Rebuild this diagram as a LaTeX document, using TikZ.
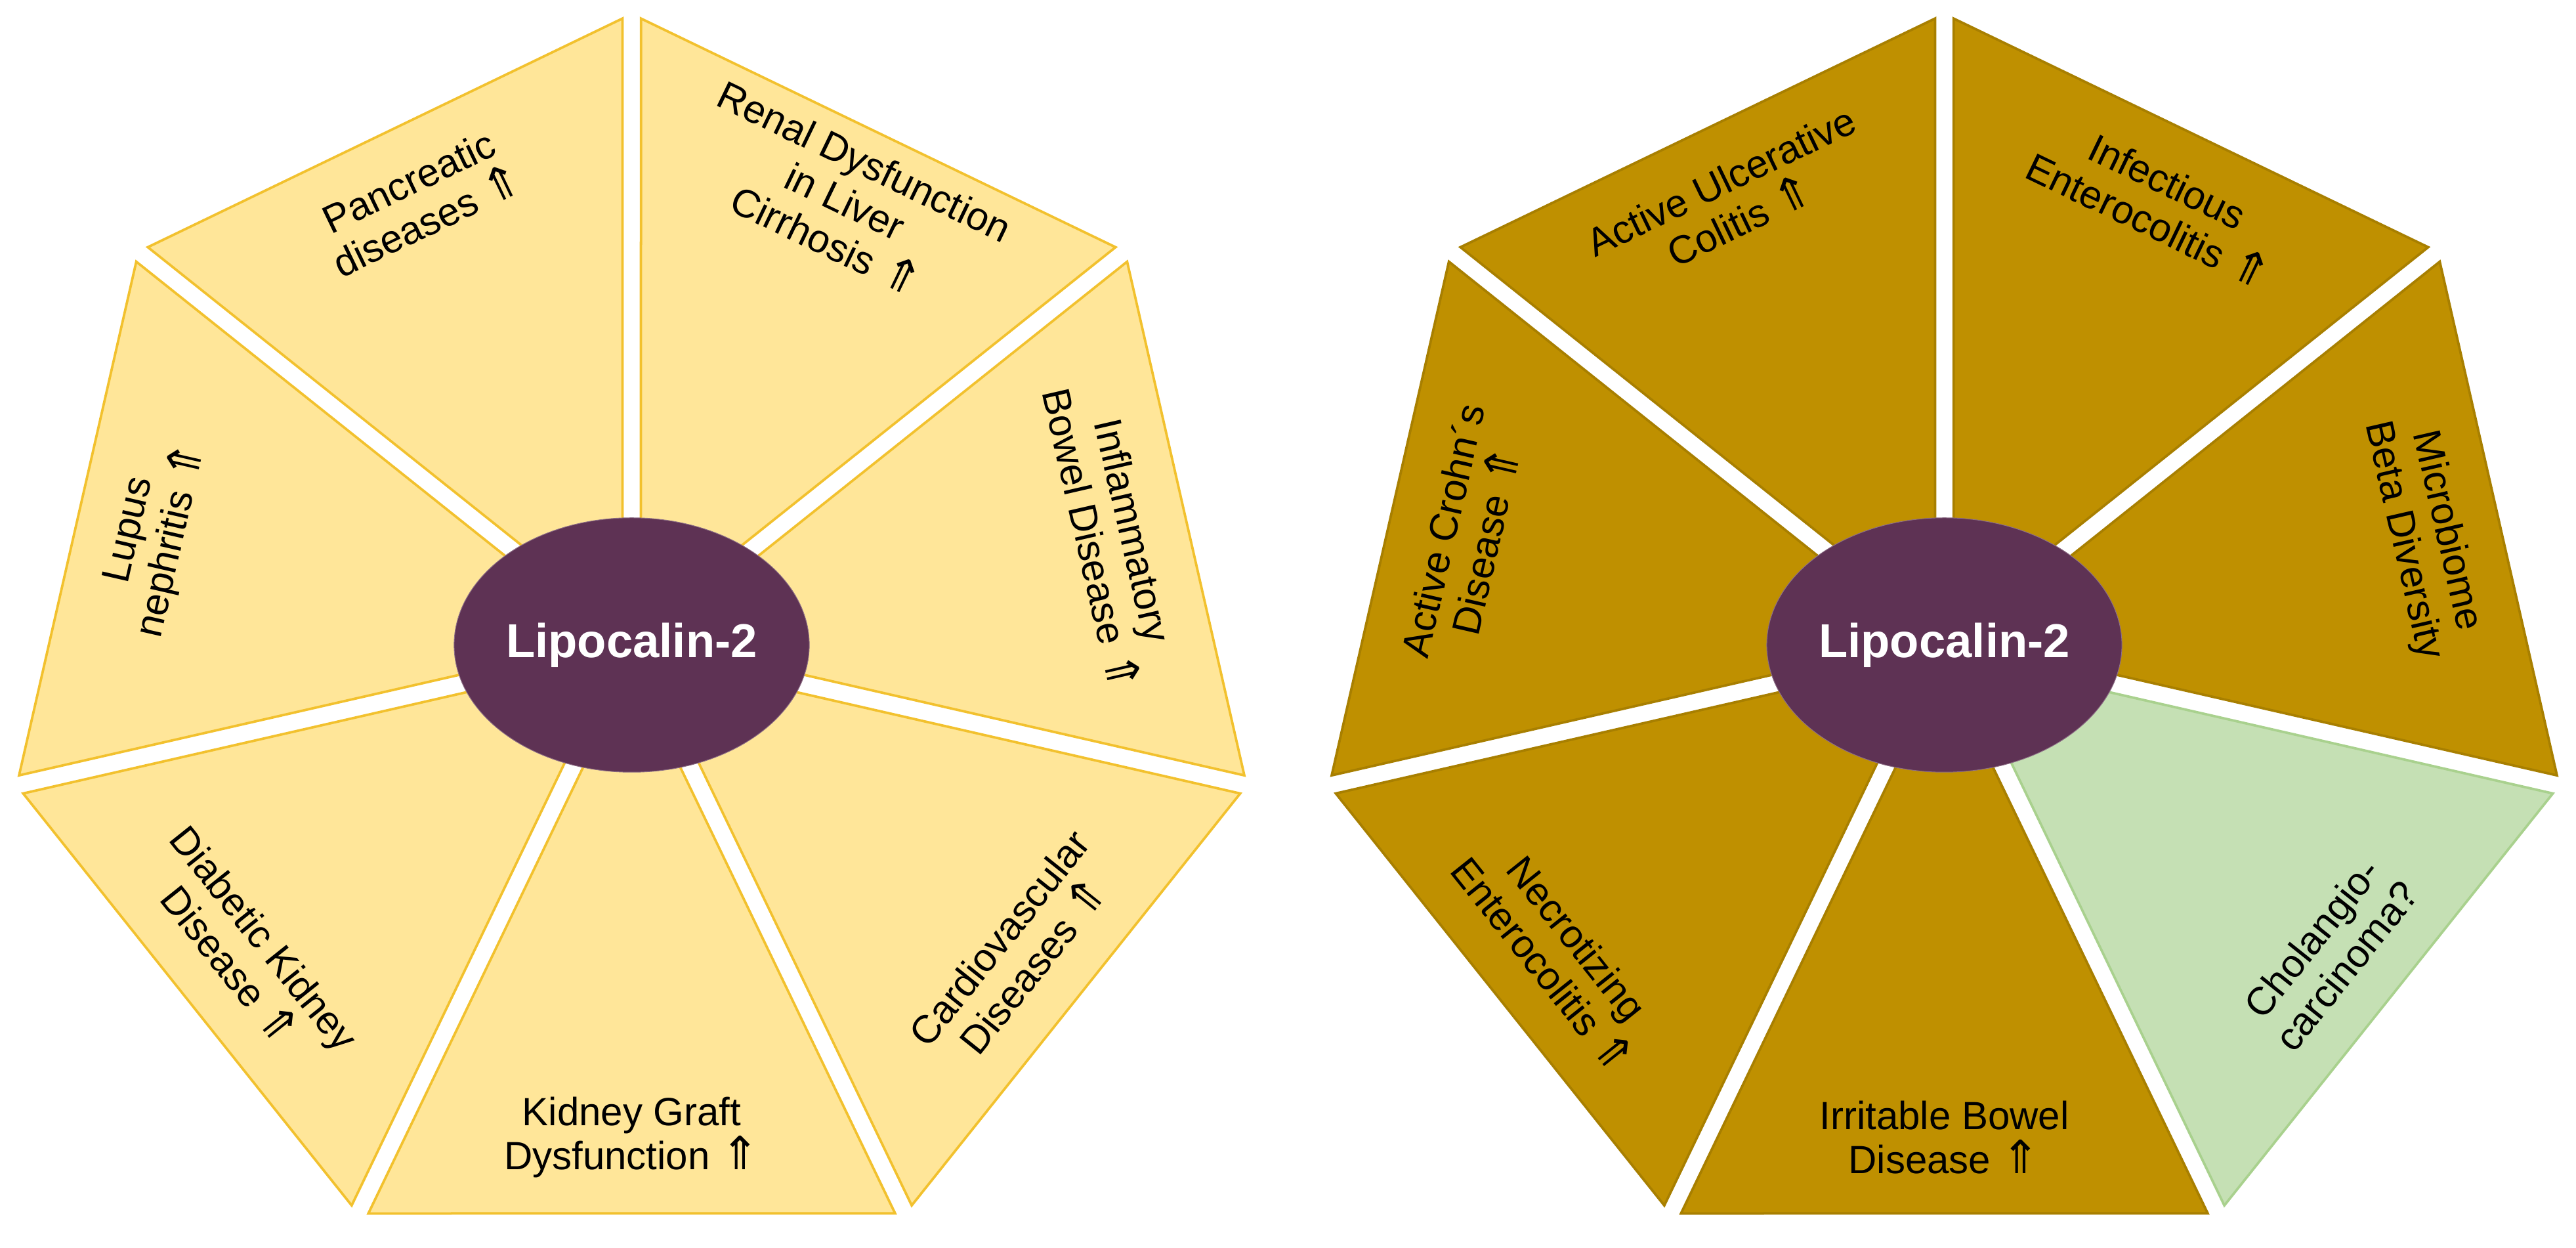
\documentclass[tikz,border=0pt]{standalone}
\usepackage{fontspec}
\setmainfont{Liberation Sans}
\newfontfamily\symf{DejaVu Sans}
\newcommand{\up}{{\symf\fontsize{28}{27}\selectfont ⇑}}
\definecolor{lfill}{HTML}{FFE699}
\definecolor{ldraw}{HTML}{F2C12E}
\definecolor{rfill}{HTML}{BF9000}
\definecolor{rdraw}{HTML}{A87F00}
\definecolor{gfill}{HTML}{C5E0B4}
\definecolor{gdraw}{HTML}{A9D18E}
\definecolor{purp}{HTML}{5E3254}
\usetikzlibrary{shapes.geometric,calc}
\tikzset{
  lab/.style={align=center,font=\fontsize{24}{27}\selectfont,inner sep=0pt},
  core/.style={ellipse,fill=purp,draw=purp!70!white,inner sep=0pt,minimum width=202pt,minimum height=155pt,text=white,font=\bfseries\fontsize{29}{34}\selectfont},
}
\newcommand{\sector}[8]{%
  \pgfmathsetmacro{\aA}{#3}\pgfmathsetmacro{\aB}{#3+360/7}\pgfmathsetmacro{\am}{#3+180/7}%
  \begin{scope}[shift={(#1,#2)}]
    \coordinate (o#8) at ({\am}:13);
    \draw[fill=#4,draw=#5,line width=1.5pt,line join=miter] (o#8) -- ++({\aA}:370) -- ($(o#8)+({\aB}:370)$) -- cycle;
    \node[lab,rotate=#7] (t#8) at ({\am}:300) {#6};
  \end{scope}}
\begin{document}
\begin{tikzpicture}[x=1pt,y=1pt]
\useasboundingbox (0,0) rectangle (1570,760);
\def\cx{385}\def\cy{367}
\sector{\cx}{\cy}{90}{lfill}{ldraw}{Pancreatic\\diseases \up}{25.7}{L1}
\sector{\cx}{\cy}{141.43}{lfill}{ldraw}{Lupus\\nephritis \up}{77.1}{L2}
\sector{\cx}{\cy}{192.86}{lfill}{ldraw}{Diabetic Kidney\\Disease \up}{-51.4}{L3}
\sector{\cx}{\cy}{244.29}{lfill}{ldraw}{Kidney Graft\\Dysfunction \up}{0}{L4}
\sector{\cx}{\cy}{295.71}{lfill}{ldraw}{Cardiovascular\\Diseases \up}{51.4}{L5}
\sector{\cx}{\cy}{347.14}{lfill}{ldraw}{Inflammatory\\Bowel Disease \up}{-77.1}{L6}
\sector{\cx}{\cy}{38.57}{lfill}{ldraw}{Renal Dysfunction\\in Liver\\Cirrhosis \up}{-25.7}{L7}
\node[core] (lc) at (\cx,\cy) {Lipocalin-2};
\def\rx{1185}
\sector{\rx}{\cy}{90}{rfill}{rdraw}{Active Ulcerative\\Colitis \up}{25.7}{R1}
\sector{\rx}{\cy}{141.43}{rfill}{rdraw}{Active Crohn´s\\Disease \up}{77.1}{R2}
\sector{\rx}{\cy}{192.86}{rfill}{rdraw}{Necrotizing\\Enterocolitis \up}{-51.4}{R3}
\sector{\rx}{\cy}{244.29}{rfill}{rdraw}{Irritable Bowel\\Disease \up}{0}{R4}
\sector{\rx}{\cy}{295.71}{gfill}{gdraw}{Cholangio-\\carcinoma?}{51.4}{R5}
\sector{\rx}{\cy}{347.14}{rfill}{rdraw}{Microbiome\\Beta Diversity}{-77.1}{R6}
\sector{\rx}{\cy}{38.57}{rfill}{rdraw}{Infectious\\Enterocolitis \up}{-25.7}{R7}
\node[core] (rc) at (\rx,\cy) {Lipocalin-2};
\end{tikzpicture}
\end{document}
